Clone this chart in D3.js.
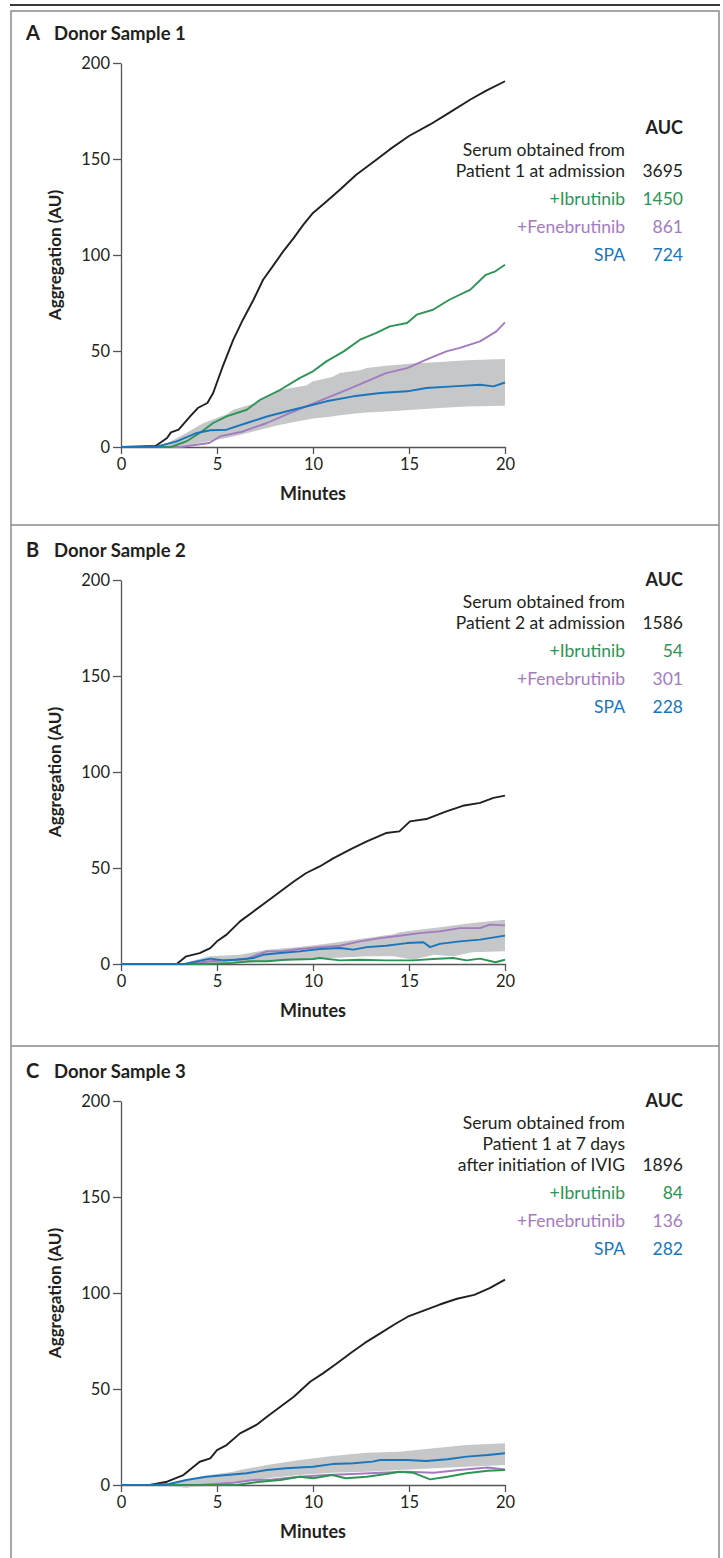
<!DOCTYPE html>
<html>
<head>
<meta charset="utf-8">
<script src="https://cdn.jsdelivr.net/npm/d3@7"></script>
<style>
  body { margin: 0; background: #fff; }
  svg text { font-family: Lato, "Open Sans", sans-serif; fill: #231f20; }
</style>
</head>
<body>
<div id="chart"></div>
<script>
// ---- data ----
var minuteTicks = [0, 5, 10, 15, 20];
var aggTicks = [0, 50, 100, 150, 200];

var panelLetters = ['A', 'B', 'C'];
var panelTitles = ['Donor Sample 1', 'Donor Sample 2', 'Donor Sample 3'];
var serumLabels = [
    ['Serum obtained from', 'Patient 1 at admission'],
    ['Serum obtained from', 'Patient 2 at admission'],
    ['Serum obtained from', 'Patient 1 at 7 days', 'after initiation of IVIG']
];
var treatmentLabels = ['+Ibrutinib', '+Fenebrutinib', 'SPA'];
var aucA = [3695, 1450, 861, 724];
var aucB = [1586, 54, 301, 228];
var aucC = [1896, 84, 136, 282];

// [minute, aggregation]
var serumA = [[0,0],[1.8,0.5],[2.4,4.7],[2.6,7.6],[3.0,9.0],[3.6,15.9],[4.0,20.3],[4.5,22.9],[4.8,28.1],[5.3,42],[5.85,55.9],[6.35,66.3],[6.9,76.7],[7.4,87.1],[7.9,94.1],[8.45,101.9],[9.0,108.9],[9.5,115.8],[10.0,121.9],[10.7,127.9],[11.4,134],[12.25,141.8],[13.3,149.6],[14,155],[15,162],[16.1,168],[17,173.5],[18.2,181],[19,185.5],[20,190.5]];
var ibrA = [[0,0],[2.6,0],[3.4,2.9],[4.1,7.3],[4.8,12.5],[5.5,15.9],[6.55,19.4],[7.25,24.6],[8.3,29.8],[9.3,35.9],[10,39.4],[10.7,44.6],[11.6,49.8],[12.45,55.9],[13.3,59.4],[14,62.8],[14.9,64.6],[15.4,68.9],[16.25,71.5],[17.1,76.7],[18.2,82],[19.0,89.7],[19.5,91.5],[20,94.9]];
var feneA = [[0,0],[3.1,0],[4.6,2.1],[5.15,5.5],[6.35,8.1],[7.6,12.5],[8.6,16.8],[9.65,21.1],[10.7,25.5],[11.75,29.8],[12.8,34.2],[13.8,38.5],[14.9,41.1],[15.9,45.5],[16.95,49.8],[17.65,51.6],[18.7,55],[19.55,60.2],[20,64.9]];
var spaA = [[0,0],[1.8,0],[2.9,2.9],[3.95,7.3],[4.65,8.7],[5.5,9.0],[6.55,12.5],[7.6,15.9],[8.6,18.5],[9.65,21.1],[10.7,23.8],[12.1,26.4],[13.5,28.1],[14.9,29],[15.9,30.7],[17.3,31.6],[18.7,32.4],[19.4,31.6],[20,33.6]];
// [minute, low, high]
var spaRangeA = [[0,0,0],[1.8,0,0],[2.5,0,2.5],[3.4,0.8,7.3],[4.3,2.5,12.5],[5.5,4.7,17],[5.85,5.5,19.4],[6.9,8.1,22.5],[7.25,9,24.6],[8.3,11.6,29.8],[9.65,14.2,32],[10,14.8,34.2],[11,15.9,36.5],[11.4,16.5,38.5],[12.45,17.7,40],[12.8,18,41.1],[13.8,18.5,42.3],[15.2,19.4,43.5],[16.6,20.3,44.3],[18,21.1,45.2],[20,21.5,45.8]];

var serumB = [[0,0],[2.9,0],[3.4,4.0],[4.1,5.7],[4.65,8.3],[5.0,11.8],[5.5,15.3],[6.2,22.2],[6.9,27.4],[7.6,32.6],[8.3,37.8],[9.0,43],[9.65,47.4],[10.35,50.8],[11.05,55],[12.0,60],[12.8,63.9],[13.8,68.2],[14.5,69.1],[15.05,74.3],[15.9,75.5],[16.95,79.5],[17.8,82.4],[18.7,83.9],[19.4,86.5],[20,87.7]];
var ibrB = [[0,0],[4.5,0],[5.85,0.6],[6.7,1.4],[7.6,1.4],[8.6,2.2],[10,2.6],[10.35,3.1],[11.4,1.9],[12.45,2.2],[13.8,1.9],[15.2,1.9],[16.25,2.6],[17.3,3.1],[18,1.9],[18.7,2.8],[19.5,0.9],[20,2.2]];
var feneB = [[0,0],[3.5,0],[4.65,1.4],[5.85,2.2],[6.55,2.6],[7.05,4.8],[7.6,6.6],[8.3,6.6],[9.3,7.8],[10.35,8.8],[11.4,9.5],[12.45,11.8],[13.5,13.5],[14.5,14.7],[15.55,16.1],[16.6,17],[17.65,18.7],[18.7,18.7],[19.2,20.5],[20,20.1]];
var spaB = [[0,0],[3.3,0],[3.95,1.4],[4.65,2.8],[5.35,1.9],[6.0,2.2],[6.9,3.1],[7.4,4.8],[8.3,5.7],[9.3,6.6],[10.35,7.8],[11.4,8.3],[12.1,7.5],[12.8,8.8],[13.8,9.5],[14.9,10.9],[15.75,11.3],[16.1,8.8],[16.6,10.5],[17.65,11.8],[18.7,12.7],[20,14.8]];
var spaRangeB = [[0,0,0],[3.3,0,0],[3.5,0,1],[4.6,0.3,4],[6.2,0.3,4.8],[7.6,1.4,7.4],[9.3,2.2,8.8],[11,3.1,10.9],[12.8,4,13.5],[14.2,4,15.5],[14.5,3.5,16.5],[15.2,2.2,17.5],[16.3,4.8,18.7],[17.3,4,20],[18.3,6.1,21.3],[20,6.6,23]];

var serumC = [[0,0],[1.5,0],[2.4,1.7],[3.25,5.2],[4.1,12.1],[4.65,13.9],[5.0,18.2],[5.5,20.8],[6.2,26.9],[7.05,31.3],[7.6,35.6],[8.3,40.8],[9.0,46],[9.85,53.8],[10.5,58],[11.2,63],[12,69],[12.7,74],[13.5,79],[14.3,84],[15,88],[15.8,91],[16.6,94],[17.5,97],[18.4,99],[19.2,102.5],[20,107]];
var ibrC = [[0,0],[6,0],[7.25,1.7],[8.3,2.6],[9.3,4.3],[10,3.5],[11,5.2],[11.7,3.5],[12.8,4.3],[13.8,5.7],[14.5,6.9],[15.2,6.4],[16.1,2.9],[17,4.3],[18,6.1],[19.1,7.4],[20,7.8]];
var feneC = [[0,0],[4,0],[5.85,1.2],[6.9,2.6],[7.9,2.9],[9.3,4.3],[10.7,5.2],[12.1,5.7],[13.5,6.4],[14.9,6.9],[16.3,6.4],[17.6,7.8],[19.1,9.1],[20,8.1]];
var spaC = [[0,0],[1.5,0],[2.5,0.5],[3.4,2.6],[4.45,4.3],[5.5,5.2],[6.55,6.1],[7.6,7.8],[8.6,8.7],[10,9.5],[11,10.9],[12.1,11.3],[13.1,12.2],[13.5,13],[14.9,13],[15.9,12.5],[17,13.4],[18,14.8],[19.1,15.6],[20,16.5]];
var spaRangeC = [[0,0,0],[1.5,0,0],[2.4,-0.5,0.3],[3.4,-1.4,2.5],[4.1,-0.5,4.3],[4.8,0.3,5.5],[5.85,1.2,6.9],[6.2,1.7,7.8],[7.6,3.5,10.4],[9.3,5.2,13],[11,6.4,15.1],[12.8,6.9,16.8],[14.5,7.8,17.3],[16.3,8.7,19.1],[18,9.5,20.8],[20,10.4,21.7]];

// ---- drawing ----
var width = 723, height = 1558;
var colSerum = '#231f20', colIbr = '#2e9455', colFene = '#a47bbf', colSpa = '#1a75bb', colBand = '#c6c7c9';

var svg = d3.select('#chart').append('svg')
    .attr('width', width)
    .attr('height', height);

// outer frame
svg.append('line').attr('x1', 10).attr('x2', 720).attr('y1', 5).attr('y2', 5)
    .attr('stroke', '#3a3a3a').attr('stroke-width', 2);
svg.append('rect').attr('x', 11).attr('y', 11).attr('width', 708).attr('height', 1600)
    .attr('fill', 'none').attr('stroke', '#8a8a8a').attr('stroke-width', 1.5);

var panels = [
    { top: 63, serum: serumA, ibr: ibrA, fene: feneA, spa: spaA, band: spaRangeA, auc: aucA, legendY: 128 },
    { top: 580, serum: serumB, ibr: ibrB, fene: feneB, spa: spaB, band: spaRangeB, auc: aucB, legendY: 580 },
    { top: 1101, serum: serumC, ibr: ibrC, fene: feneC, spa: spaC, band: spaRangeC, auc: aucC, legendY: 1101 }
];

var x = d3.scaleLinear().domain([0, 20]).range([121, 505]);

panels.forEach(function(p, i) {
    var y = d3.scaleLinear().domain([0, 200]).range([p.top + 384, p.top]);
    var g = svg.append('g');

    // separator above panel
    if (i > 0) {
        g.append('line').attr('x1', 11).attr('x2', 719)
            .attr('y1', p.top - 55).attr('y2', p.top - 55)
            .attr('stroke', '#8a8a8a').attr('stroke-width', 1.5);
    }

    // title
    g.append('text').attr('x', 26).attr('y', p.top - 23)
        .style('font-size', '20px').style('font-weight', 'bold').text(panelLetters[i]);
    g.append('text').attr('x', 54).attr('y', p.top - 23)
        .style('font-size', '18.5px').style('font-weight', 'bold').text(panelTitles[i]);

    // axes
    var xAxis = g.append('g').attr('transform', 'translate(0,' + y(0) + ')')
        .call(d3.axisBottom(x).tickValues(minuteTicks).tickSize(7).tickSizeOuter(0).tickPadding(4));
    var yAxis = g.append('g').attr('transform', 'translate(' + x(0) + ',0)')
        .call(d3.axisLeft(y).tickValues(aggTicks).tickSize(8).tickSizeOuter(0).tickPadding(3));
    [xAxis, yAxis].forEach(function(ax) {
        ax.selectAll('path, line').attr('stroke', '#555').attr('stroke-width', 1.3);
        ax.selectAll('text').style('font-size', '16.5px').attr('fill', '#231f20')
            .style('font-family', 'Lato, sans-serif');
    });

    g.append('text').attr('x', (x(0) + x(20)) / 2).attr('y', y(0) + 53)
        .attr('text-anchor', 'middle').style('font-size', '18px').style('font-weight', 'bold')
        .text('Minutes');
    g.append('text')
        .attr('transform', 'translate(61,' + y(100) + ') rotate(-90)')
        .attr('text-anchor', 'middle').style('font-size', '17px').style('font-weight', 'bold')
        .text('Aggregation (AU)');

    // SPA range band
    var area = d3.area()
        .x(function(d) { return x(d[0]); })
        .y0(function(d) { return y(d[1]); })
        .y1(function(d) { return y(d[2]); });
    g.append('path').datum(p.band).attr('d', area).attr('fill', colBand);

    var line = d3.line()
        .x(function(d) { return x(d[0]); })
        .y(function(d) { return y(d[1]); });

    [[p.serum, colSerum], [p.fene, colFene], [p.ibr, colIbr], [p.spa, colSpa]].forEach(function(s) {
        g.append('path').datum(s[0]).attr('d', line)
            .attr('fill', 'none').attr('stroke', s[1]).attr('stroke-width', 1.9)
            .attr('stroke-linejoin', 'round');
    });

    // legend
    var ly = p.legendY;
    var lg = g.append('g').style('font-size', '17.5px');
    lg.append('text').attr('x', 683).attr('y', ly).attr('dy', '0.35em')
        .attr('text-anchor', 'end').style('font-weight', 'bold').style('font-size', '18px').text('AUC');
    ly += 22;
    serumLabels[i].forEach(function(t, k) {
        lg.append('text').attr('x', 625).attr('y', ly).attr('dy', '0.35em')
            .attr('text-anchor', 'end').text(t);
        if (k === serumLabels[i].length - 1) {
            lg.append('text').attr('x', 683).attr('y', ly).attr('dy', '0.35em')
                .attr('text-anchor', 'end').text(p.auc[0]);
        } else {
            ly += 21;
        }
    });
    var cols = [colIbr, colFene, colSpa];
    treatmentLabels.forEach(function(t, k) {
        ly += 28;
        lg.append('text').attr('x', 625).attr('y', ly).attr('dy', '0.35em')
            .attr('text-anchor', 'end').style('fill', cols[k]).text(t);
        lg.append('text').attr('x', 683).attr('y', ly).attr('dy', '0.35em')
            .attr('text-anchor', 'end').style('fill', cols[k]).text(p.auc[k + 1]);
    });
});
</script>
</body>
</html>
